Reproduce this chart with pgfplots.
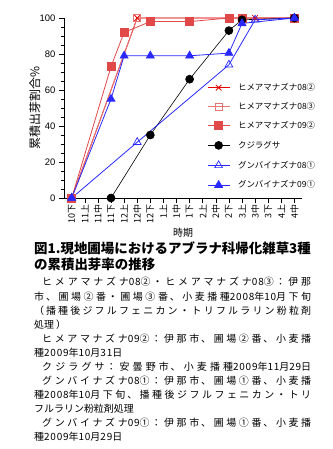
\documentclass[border=0pt]{standalone}
\usepackage{pgfplots}
\pgfplotsset{compat=1.18}
\usepackage{fontspec}
\setmainfont{Noto Sans CJK JP}
\newfontfamily\arial{Liberation Sans}
\newfontfamily\bodyfont[LetterSpace=19]{Noto Sans CJK JP}
\newfontfamily\digfont[LetterSpace=8]{Noto Sans CJK JP}
\newcommand\n[1]{{\digfont #1}}
\definecolor{cRed}{RGB}{230,0,0}
\definecolor{cLRed}{RGB}{232,115,115}
\definecolor{cSq}{RGB}{225,72,72}
\definecolor{cBlue}{RGB}{40,40,255}
\begin{document}
\begin{tikzpicture}
\useasboundingbox (0,0) rectangle (333bp,449bp);
\begin{axis}[
  at={(64bp,251bp)}, anchor=south west, scale only axis,
  width=238bp, height=180bp,
  xmin=-0.59, xmax=17.58, ymin=0, ymax=100,
  axis x line*=bottom, axis y line*=left,
  axis line style={line width=0.6bp},
  xtick={0,...,17},
  xticklabels={10下,11上,11中,11下,12上,12中,12下,1上,1中,1下,2上,2中,2下,3上,3中,3下,4上,4中},
  x tick label style={rotate=90, anchor=east, font=\fontsize{9}{9}\selectfont, inner sep=1bp},
  ytick={0,20,...,100}, minor y tick num=3,
  tick align=outside, major tick length=5bp, minor tick length=3bp,
  tick style={line width=0.5bp, black},
  /pgf/number format/assume math mode=true,
  y tick label style={font=\arial\fontsize{9.5}{10}\selectfont},
  ylabel={累積出芽割合\%},
  ylabel style={at={(axis description cs:-0.122,0.5)}, anchor=center, font=\fontsize{12}{13}\selectfont},
  xlabel={時期},
  xlabel style={at={(axis description cs:0.5,-0.194)}, anchor=center, font=\fontsize{10}{11}\selectfont},
  clip=false,
  legend cell align=left,
  legend style={at={(axis description cs:0.601,0.635)}, anchor=north west, draw=none, fill=none,
    inner sep=0pt, font=\fontsize{8.5}{9}\selectfont, row sep=11.5bp,
    nodes={inner sep=0pt, text height=6.5bp, text depth=1bp},
    /tikz/every odd column/.append style={column sep=8bp}},
  legend image code/.code={\draw[mark repeat=2,mark phase=2,#1] plot coordinates {(0bp,0bp) (11bp,0bp) (22bp,0bp)};},
]
\addplot[color=cRed, line width=0.8bp, mark=x, mark size=4bp, mark options={line width=0.8bp}]
  coordinates {(0,0) (5,100) (14,100) (17,100)};
\addlegendentry{ヒメアマナズナ08②}
\addplot[color=cLRed, line width=0.8bp, mark=square, mark size=3.5bp, mark options={fill=none, line width=0.7bp}]
  coordinates {(0,0) (5,100) (13,100) (17,100)};
\addlegendentry{ヒメアマナズナ08③}
\addplot[color=cSq, line width=0.8bp, mark=square*, mark size=4bp, mark options={fill=cSq, draw=cSq}]
  coordinates {(0,0) (3,73) (4,92) (6,98) (9,98) (12,100) (13,100) (17,100)};
\addlegendentry{ヒメアマナズナ09②}
\addplot[color=black, line width=0.6bp, mark=*, mark size=4bp, mark options={fill=black}]
  coordinates {(3,0) (6,35) (9,66) (12,93) (13,99) (17,100)};
\addlegendentry{クジラグサ}
\addplot[color=cBlue, line width=0.8bp, mark=triangle, mark size=4.5bp, mark options={fill=white, line width=0.7bp}]
  coordinates {(0,0) (5,31) (12,74) (14,99) (17,100)};
\addlegendentry{グンバイナズナ08①}
\addplot[color=cBlue, line width=0.8bp, mark=triangle*, mark size=4.5bp, mark options={fill=cBlue}]
  coordinates {(0,0) (3,55) (4,79) (6,79) (9,79) (12,80.5) (13,97) (17,100)};
\addlegendentry{グンバイナズナ09①}
\end{axis}
\node[anchor=north west, inner sep=0pt, text width=277bp, align=justify] at (34bp,207bp) {%
\XeTeXlinebreaklocale "ja"\XeTeXlinebreakskip=0pt plus 2pt\relax
\parindent=0pt
{\fontsize{13.5}{16}\bfseries 図1.現地圃場におけるアブラナ科帰化雑草3種\\の累積出芽率の推移\par}%
\vspace{2bp}%
\fontsize{10}{14.1}\bodyfont
\hspace*{8bp}ヒメアマナズナ\n{08}②・ヒメアマナズナ\n{08}③：伊那\linebreak 市、圃場②番・圃場③番、小麦播種\n{2008}年\n{10}月下旬\linebreak （播種後ジフルフェニカン・トリフルラリン粉粒剤\linebreak 処理）\par
\hspace*{8bp}ヒメアマナズナ\n{09}②：伊那市、圃場②番、小麦播\linebreak 種\n{2009}年\n{10}月\n{31}日\par
{\parfillskip=0pt \hspace*{8bp}クジラグサ：安曇野市、小麦播種\n{2009}年\n{11}月\n{29}日\par}%
\hspace*{8bp}グンバイナズナ\n{08}①：伊那市、圃場①番、小麦播\linebreak 種\n{2008}年\n{10}月下旬、播種後ジフルフェニカン・トリ\linebreak フルラリン粉粒剤処理\par
\hspace*{8bp}グンバイナズナ\n{09}①：伊那市、圃場①番、小麦播\linebreak 種\n{2009}年\n{10}月\n{29}日\par
};
\end{tikzpicture}
\end{document}
